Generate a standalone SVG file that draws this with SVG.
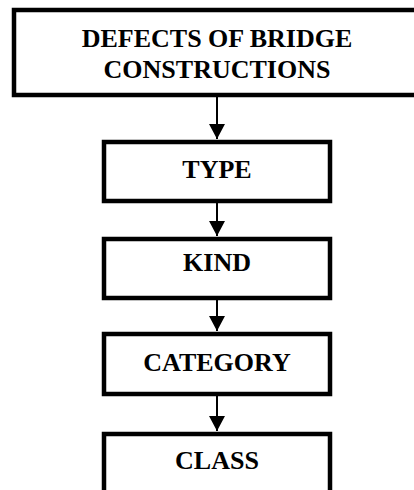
<svg xmlns="http://www.w3.org/2000/svg" width="414" height="490" viewBox="0 0 414 490">
<style>
.box{fill:#fff;stroke:#000;stroke-width:4.5}
.t{font-family:"Liberation Serif","Times New Roman",serif;font-weight:bold;font-size:26px;text-anchor:middle;fill:#000}
.c{stroke:#000;stroke-width:2;fill:none}
</style>
<defs>
<marker id="ah" markerWidth="15" markerHeight="16" viewBox="0 0 15 16" refX="15" refY="8" orient="auto" markerUnits="userSpaceOnUse">
<path d="M0,0 L15,8 L0,16 Z" fill="#000"/>
</marker>
</defs>
<g id="connectors">
<line class="c" x1="217" y1="97" x2="217" y2="139" marker-end="url(#ah)"/>
<line class="c" x1="217" y1="202" x2="217" y2="236" marker-end="url(#ah)"/>
<line class="c" x1="217" y1="298" x2="217" y2="331" marker-end="url(#ah)"/>
<line class="c" x1="217" y1="395" x2="217" y2="431" marker-end="url(#ah)"/>
</g>
<g id="n_defects">
<rect class="box" x="14" y="10" width="410" height="85"/>
<text class="t" x="217" y="47">DEFECTS OF BRIDGE</text>
<text class="t" x="217" y="78">CONSTRUCTIONS</text>
</g>
<g id="n_type">
<rect class="box" x="104" y="142" width="226" height="59"/>
<text class="t" x="217" y="178">TYPE</text>
</g>
<g id="n_kind">
<rect class="box" x="104" y="239" width="226" height="59"/>
<text class="t" x="217" y="271">KIND</text>
</g>
<g id="n_category">
<rect class="box" x="104" y="334" width="226" height="60"/>
<text class="t" x="217" y="371">CATEGORY</text>
</g>
<g id="n_class">
<rect class="box" x="104" y="434" width="226" height="70"/>
<text class="t" x="217" y="469">CLASS</text>
</g>
</svg>
